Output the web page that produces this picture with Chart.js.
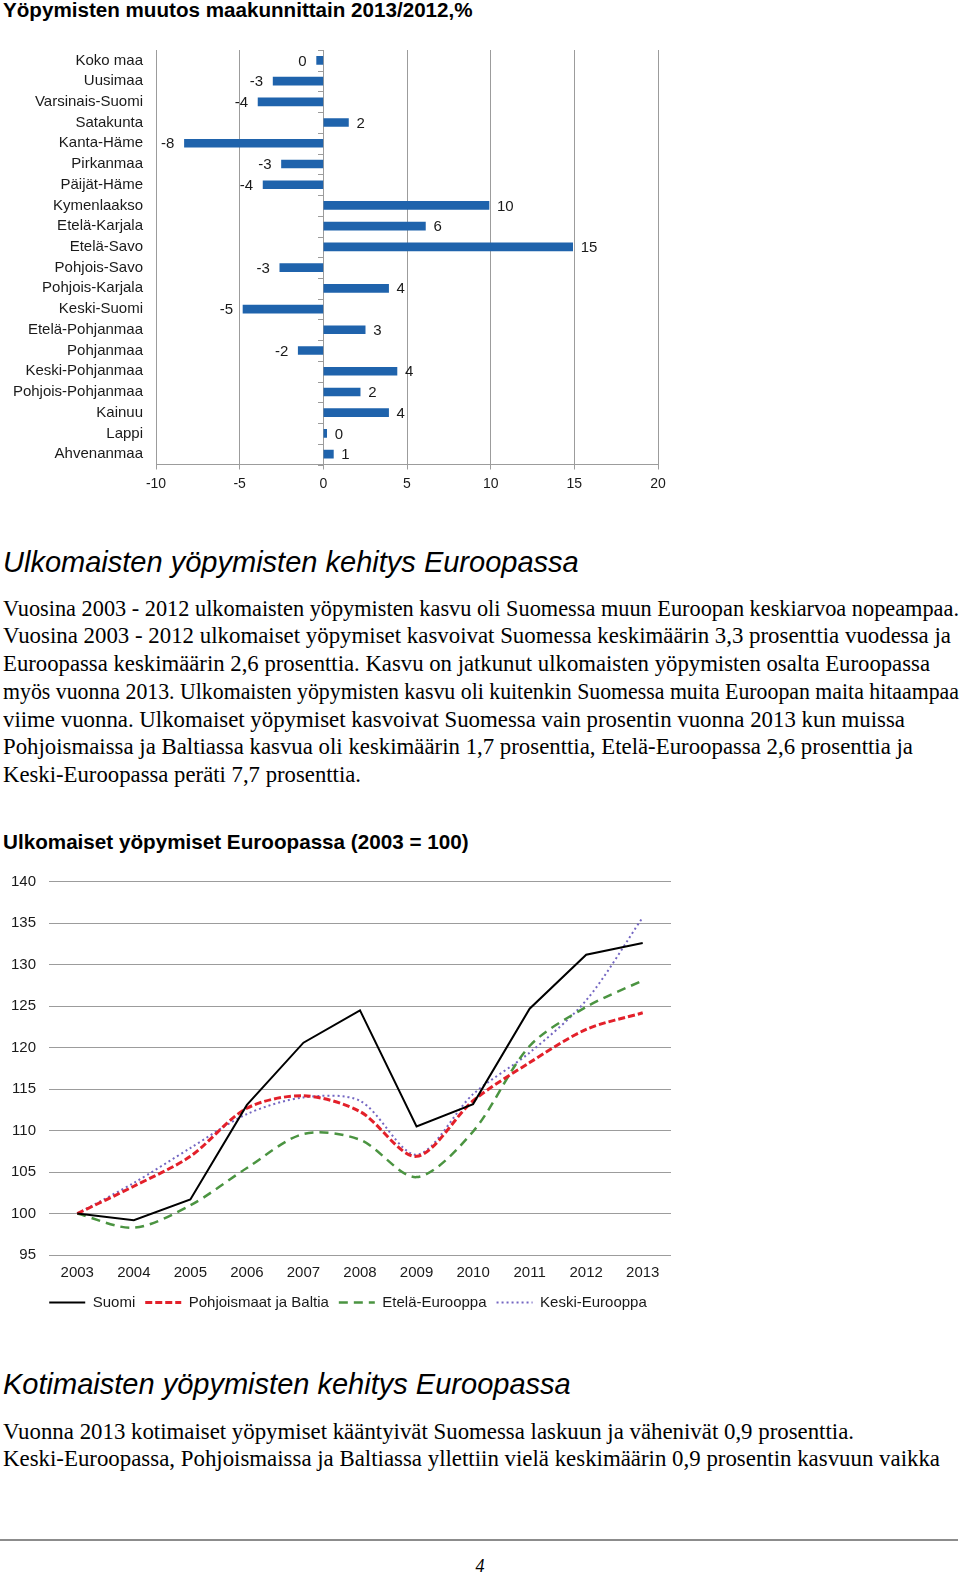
<!DOCTYPE html>
<html>
<head>
<meta charset="utf-8">
<script src="https://cdn.jsdelivr.net/npm/chart.js@4.4.1/dist/chart.umd.min.js"></script>
<style>
  html,body{margin:0;padding:0;background:#fff;}
  body{width:960px;height:1572px;position:relative;overflow:hidden;color:#000;font-family:"Liberation Sans",Arial,sans-serif;}
  .t{position:absolute;white-space:nowrap;line-height:1;display:inline-block;transform-origin:0 50%;}
  .sans{font-family:"Liberation Sans",Arial,sans-serif;}
  .ser{font-family:"Liberation Serif","Times New Roman",serif;}
  .b{font-weight:bold;}
  .i{font-style:italic;}
  .box{position:absolute;}
  #hr{position:absolute;left:0;top:1539px;width:958px;height:2px;background:#8c8c8c;}
</style>
</head>
<body>
<div class="t sans b" id="t1" style="left:3px">Yöpymisten muutos maakunnittain 2013/2012,%</div>
<div class="box" style="left:0;top:40px;width:680px;height:460px"><canvas id="bar" width="680" height="460"></canvas></div>

<div class="t sans i" id="h1" style="left:3px">Ulkomaisten yöpymisten kehitys Euroopassa</div>
<div id="p1"></div>

<div class="t sans b" id="t2" style="left:3px">Ulkomaiset yöpymiset Euroopassa (2003 = 100)</div>
<div class="box" style="left:0;top:860px;width:700px;height:460px"><canvas id="line" width="700" height="460"></canvas></div>

<div class="t sans i" id="h2" style="left:3px">Kotimaisten yöpymisten kehitys Euroopassa</div>
<div id="p2"></div>
<div id="hr"></div>
<div class="t ser i" id="pg">4</div>

<script>
// ---------- Bar chart data ----------
const regions = ['Koko maa','Uusimaa','Varsinais-Suomi','Satakunta','Kanta-Häme','Pirkanmaa','Päijät-Häme','Kymenlaakso','Etelä-Karjala','Etelä-Savo','Pohjois-Savo','Pohjois-Karjala','Keski-Suomi','Etelä-Pohjanmaa','Pohjanmaa','Keski-Pohjanmaa','Pohjois-Pohjanmaa','Kainuu','Lappi','Ahvenanmaa'];
const changes = [-0.4,-3.0,-3.9,1.5,-8.3,-2.5,-3.6,9.9,6.1,14.9,-2.6,3.9,-4.8,2.5,-1.5,4.4,2.2,3.9,0.2,0.6];
const changeLabels = ['0','-3','-4','2','-8','-3','-4','10','6','15','-3','4','-5','3','-2','4','2','4','0','1'];
const barAxisMin = -10, barAxisMax = 20, barAxisStep = 5;

// ---------- Line chart data ----------
const years = ['2003','2004','2005','2006','2007','2008','2009','2010','2011','2012','2013'];
const suomi       = [100, 99.2, 101.7, 113.1, 120.6, 124.5, 110.5, 113.2, 124.7, 131.2, 132.6];
const pohjoismaat = [100, 103.3, 106.9, 112.7, 114.2, 112.3, 106.9, 113.6, 118.2, 122.2, 124.2];
const etela       = [100, 98.3, 101.0, 105.5, 109.6, 108.9, 104.4, 109.9, 120.2, 124.9, 128.1];
const keski       = [100, 103.7, 107.9, 112.0, 114.0, 113.6, 107.1, 114.4, 119.4, 125.7, 135.7];
const seriesNames = ['Suomi','Pohjoismaat ja Baltia','Etelä-Eurooppa','Keski-Eurooppa'];
const lineAxisMin = 95, lineAxisMax = 140, lineAxisStep = 5;

// ---------- Texts ----------
const para1 = [
 'Vuosina 2003 - 2012 ulkomaisten yöpymisten kasvu oli Suomessa muun Euroopan keskiarvoa nopeampaa.',
 'Vuosina 2003 - 2012 ulkomaiset yöpymiset kasvoivat Suomessa keskimäärin 3,3 prosenttia vuodessa ja',
 'Euroopassa keskimäärin 2,6 prosenttia. Kasvu on jatkunut ulkomaisten yöpymisten osalta Euroopassa',
 'myös vuonna 2013. Ulkomaisten yöpymisten kasvu oli kuitenkin Suomessa muita Euroopan maita hitaampaa',
 'viime vuonna. Ulkomaiset yöpymiset kasvoivat Suomessa vain prosentin vuonna 2013 kun muissa',
 'Pohjoismaissa ja Baltiassa kasvua oli keskimäärin 1,7 prosenttia, Etelä-Euroopassa 2,6 prosenttia ja',
 'Keski-Euroopassa peräti 7,7 prosenttia.'
];
const para2 = [
 'Vuonna 2013 kotimaiset yöpymiset kääntyivät Suomessa laskuun ja vähenivät 0,9 prosenttia.',
 'Keski-Euroopassa, Pohjoismaissa ja Baltiassa yllettiin vielä keskimäärin 0,9 prosentin kasvuun vaikka'
];
const para1Widths = [956, 948, 927, 956, 902, 910, 358];
const para2Widths = [851, 937];

// ---------- text layout helpers ----------
const SANS_ASC = 0.8465, SERIF_ASC = 0.8375;
function widthAt100(el){ el.style.fontSize='100px'; return el.getBoundingClientRect().width; }
function fitSize(el, w){ return 100*w/widthAt100(el); }
function place(el, fs, baseline, asc){ el.style.fontSize=fs+'px'; el.style.top=(baseline-asc*fs)+'px'; }

const t1=document.getElementById('t1'); place(t1, fitSize(t1,470), 17.3, SANS_ASC);
const t2=document.getElementById('t2'); place(t2, fitSize(t2,466), 850, SANS_ASC);
const h2=document.getElementById('h2'); const hs=fitSize(h2,568);
place(h2, hs, 1395, SANS_ASC);
const h1=document.getElementById('h1'); place(h1, hs, 573, SANS_ASC);

function makeLines(container, lines){
  return lines.map(s=>{ const d=document.createElement('div'); d.className='t ser'; d.style.left='3px'; d.textContent=s; container.appendChild(d); return d; });
}
const p1=makeLines(document.getElementById('p1'), para1);
const p2=makeLines(document.getElementById('p2'), para2);
const ps=fitSize(p1[1],948);
function setLines(els, widths, b0, step){
  els.forEach((d,k)=>{
    place(d, ps, b0+k*step, SERIF_ASC);
    const w=d.getBoundingClientRect().width;
    d.style.transform='scaleX('+(widths[k]/w)+')';
  });
}
setLines(p1, para1Widths, 616.7, 27.75);
setLines(p2, para2Widths, 1440, 27.5);
const pg=document.getElementById('pg'); place(pg, 18, 1572, SERIF_ASC); pg.style.left=(480-pg.getBoundingClientRect().width/2)+'px';

// ---------- Charts ----------
const F = '"Liberation Sans", Arial, sans-serif';
const BLUE = 'rgb(31,99,172)';
const GRID = '#9c9c9c';
Chart.defaults.font.family = F;
Chart.defaults.color = '#1a1a1a';

const barExtras = {
  id:'barExtras',
  afterDatasetsDraw(chart){
    const {ctx, scales:{x,y}} = chart;
    const meta = chart.getDatasetMeta(0);
    ctx.save();
    ctx.font = '15px ' + F;
    ctx.fillStyle = '#1a1a1a';
    ctx.textBaseline = 'middle';
    meta.data.forEach((bar,i)=>{
      if (changes[i] >= 0){ ctx.textAlign='left'; ctx.fillText(changeLabels[i], bar.x+8, bar.y+1); }
      else { ctx.textAlign='right'; ctx.fillText(changeLabels[i], bar.x-10, bar.y+1); }
    });
    const x0 = Math.round(x.getPixelForValue(0));
    const band = (y.bottom - y.top)/regions.length;
    ctx.strokeStyle = GRID; ctx.lineWidth = 1; ctx.beginPath();
    for (let i=0;i<=regions.length;i++){ const yy=Math.round(y.top+i*band)+0.5; ctx.moveTo(x0-5,yy); ctx.lineTo(x0,yy); }
    ctx.stroke();
    ctx.restore();
  }
};

new Chart(document.getElementById('bar'), {
  type:'bar',
  data:{ labels:regions, datasets:[{ data:changes, backgroundColor:BLUE, borderWidth:0, barThickness:8 }] },
  options:{
    indexAxis:'y', responsive:false, animation:false, events:[],
    layout:{ padding:{ top:10, right:22, left:0, bottom:0 } },
    plugins:{ legend:{display:false}, tooltip:{enabled:false} },
    scales:{
      x:{ min:barAxisMin, max:barAxisMax,
          ticks:{ stepSize:barAxisStep, font:{size:14}, color:'#1a1a1a', padding:6 },
          grid:{ color:GRID, lineWidth:1, drawTicks:true, tickLength:5, tickColor:GRID },
          border:{ color:GRID, width:1 },
          afterFit(s){ s.height = 35.5; } },
      y:{ ticks:{ font:{size:15}, color:'#1a1a1a', padding:0, autoSkip:false },
          grid:{ display:false, drawTicks:true, tickLength:13 }, border:{ display:false },
          afterFit(s){ s.width = 156; } }
    }
  },
  plugins:[barExtras]
});

// shift the legend row so that it is centred like in the original
const legendShift = {
  id:'legendShift',
  afterLayout(chart){ if (chart.legend) chart.legend.left += 25; }
};

new Chart(document.getElementById('line'), {
  type:'line',
  data:{ labels:years, datasets:[
    { label:seriesNames[0], data:suomi, borderColor:'#000', backgroundColor:'#000', borderWidth:2, pointRadius:0, tension:0, fill:false },
    { label:seriesNames[1], data:pohjoismaat, borderColor:'#e3202a', backgroundColor:'#e3202a', borderWidth:3, borderDash:[7,3], pointRadius:0, tension:0.3, fill:false },
    { label:seriesNames[2], data:etela, borderColor:'#4b9441', backgroundColor:'#4b9441', borderWidth:2.5, borderDash:[9,6], pointRadius:0, tension:0.3, fill:false },
    { label:seriesNames[3], data:keski, borderColor:'#7466c2', backgroundColor:'#7466c2', borderWidth:2, borderDash:[2,3], pointRadius:0, tension:0.3, fill:false }
  ]},
  options:{
    responsive:false, animation:false, events:[],
    layout:{ padding:{ top:21.7, right:29, left:0, bottom:0 } },
    plugins:{
      tooltip:{enabled:false},
      legend:{ position:'bottom', labels:{
        usePointStyle:true, pointStyle:'line', pointStyleWidth:36, boxHeight:15,
        font:{size:15}, color:'#1a1a1a', padding:10,
        generateLabels(chart){
          return chart.data.datasets.map((ds,i)=>({
            text: ds.label, datasetIndex:i, hidden:false,
            fillStyle: ds.borderColor, strokeStyle: ds.borderColor,
            lineWidth: ds.borderWidth, lineDash: ds.borderDash || [], lineCap:'butt',
            pointStyle:'line', fontColor:'#1a1a1a'
          }));
        }
      } }
    },
    scales:{
      x:{ offset:true, grid:{display:false, drawTicks:false}, border:{display:false},
          ticks:{ font:{size:15}, color:'#1a1a1a', padding:9 },
          afterFit(s){ s.height = 29.9; } },
      y:{ min:lineAxisMin, max:lineAxisMax,
          ticks:{ stepSize:lineAxisStep, font:{size:15}, color:'#1a1a1a', padding:0 },
          grid:{ color:GRID, lineWidth:1, drawTicks:true, tickLength:13, tickColor:'rgba(0,0,0,0)' }, border:{display:false},
          afterFit(s){ s.width = 49; } }
    }
  },
  plugins:[legendShift]
});
</script>
</body>
</html>
